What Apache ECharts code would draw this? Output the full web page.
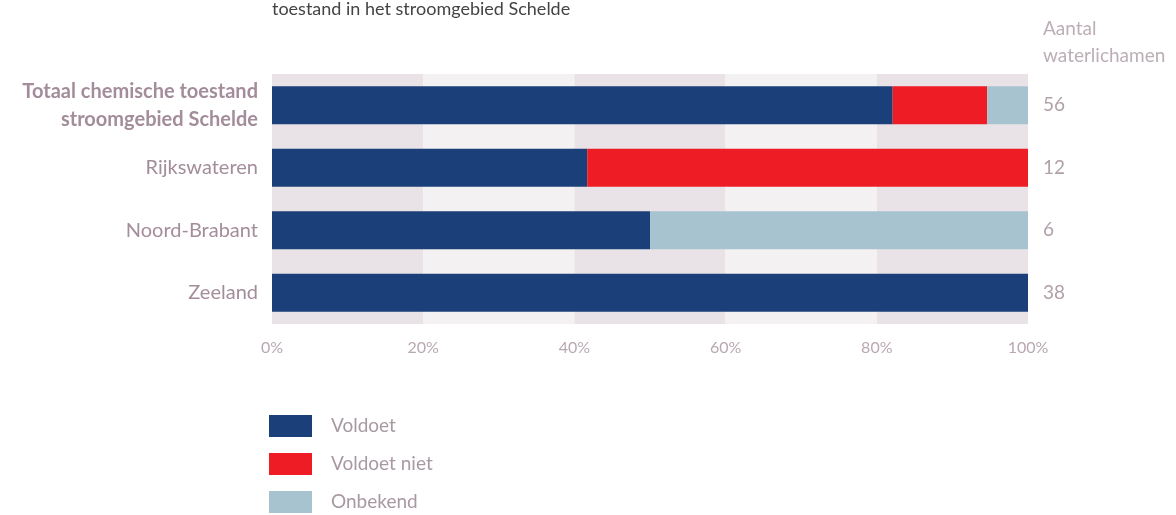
<!DOCTYPE html>
<html>
<head>
<meta charset="utf-8">
<script src="https://cdn.jsdelivr.net/npm/echarts@6/dist/echarts.min.js"></script>
<style>
  html, body { margin: 0; padding: 0; background: #fff; }
  #chart { width: 1176px; height: 515px; }
</style>
</head>
<body>
<div id="chart"></div>
<script>
var categories = ['Totaal chemische toestand\nstroomgebied Schelde', 'Rijkswateren', 'Noord-Brabant', 'Zeeland'];
var counts = ['56', '12', '6', '38'];
var voldoet = [82.1, 41.7, 50, 100];
var voldoetNiet = [12.5, 58.3, 0, 0];
var onbekend = [5.4, 0, 50, 0];
var xTicks = [0, 20, 40, 60, 80, 100];

var myChart = echarts.init(document.getElementById('chart'));
var fontFam = 'Lato, "Noto Sans", sans-serif';
var labelColor = '#a48d9b';

var option = {
    animation: false,
    textStyle: { fontFamily: fontFam },
    color: ['#1b4079', '#ee1c24', '#a7c3d0'],
    grid: { left: 272, right: 148, top: 74, height: 250 },
    graphic: [
        {
            type: 'text', left: 272, top: 0,
            style: { text: 'toestand in het stroomgebied Schelde', fontSize: 18, fill: '#444', fontFamily: fontFam }
        },
        {
            type: 'text', left: 1043, top: 15,
            style: { text: 'Aantal\nwaterlichamen', fontSize: 19, lineHeight: 27, fill: '#bcaeb7', fontFamily: fontFam }
        }
    ],
    legend: {
        orient: 'vertical',
        left: 269,
        top: 415,
        height: 100,
        padding: 0,
        itemWidth: 43,
        itemHeight: 22,
        itemGap: 16,
        icon: 'rect',
        textStyle: { fontSize: 19, color: '#a898a3', padding: [6, 0, 0, 14] },
        data: ['Voldoet', 'Voldoet niet', 'Onbekend']
    },
    xAxis: {
        type: 'value',
        min: 0,
        max: 100,
        interval: 20,
        axisLine: { show: false },
        axisTick: { show: false },
        splitLine: { show: false },
        splitArea: { show: true, areaStyle: { color: ['#e9e3e7', '#f3f1f2'] } },
        axisLabel: {
            margin: 16,
            fontSize: 16,
            color: '#b8a8b2',
            formatter: function (v) { return xTicks.indexOf(v) >= 0 ? v + '%' : ''; }
        }
    },
    yAxis: [
        {
            type: 'category',
            inverse: true,
            data: categories,
            axisLine: { show: false },
            axisTick: { show: false },
            axisLabel: {
                margin: 14,
                fontSize: 20,
                color: labelColor,
                lineHeight: 28,
                formatter: function (v, i) { return i === 0 ? '{b|' + v.split('\n').join('}\n{b|') + '}' : v; },
                rich: { b: { fontSize: 20, fontWeight: 'bold', color: labelColor, lineHeight: 28, fontFamily: fontFam } }
            }
        },
        {
            type: 'category',
            inverse: true,
            position: 'right',
            data: counts,
            axisLine: { show: false },
            axisTick: { show: false },
            axisLabel: { margin: 15, fontSize: 19, color: '#b0a0aa', align: 'left' }
        }
    ],
    series: [
        { name: 'Voldoet', type: 'bar', stack: 'a', barWidth: 38, data: voldoet },
        { name: 'Voldoet niet', type: 'bar', stack: 'a', barWidth: 38, data: voldoetNiet },
        { name: 'Onbekend', type: 'bar', stack: 'a', barWidth: 38, data: onbekend }
    ]
};
myChart.setOption(option);
</script>
</body>
</html>
